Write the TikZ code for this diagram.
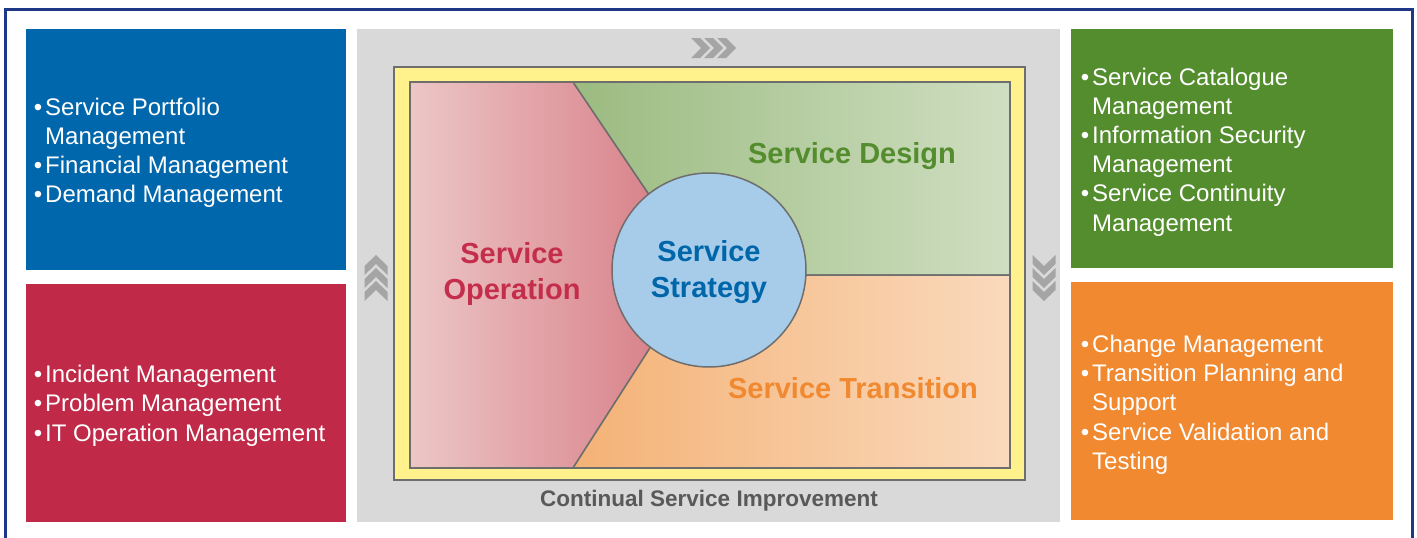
\documentclass[tikz,border=0pt]{standalone}
\usepackage{fontspec}
\setmainfont{Liberation Sans}
\definecolor{navyb}{RGB}{30,55,135}
\definecolor{boxblue}{RGB}{0,103,172}
\definecolor{boxred}{RGB}{192,41,72}
\definecolor{boxgreen}{RGB}{84,141,46}
\definecolor{boxorange}{RGB}{240,137,48}
\definecolor{panelgray}{RGB}{217,217,217}
\definecolor{yel}{RGB}{255,242,140}
\definecolor{edgegray}{RGB}{110,110,110}
\definecolor{opL}{RGB}{236,198,198}
\definecolor{opR}{RGB}{213,118,128}
\definecolor{deL}{RGB}{155,187,128}
\definecolor{deR}{RGB}{207,222,193}
\definecolor{trL}{RGB}{244,178,118}
\definecolor{trR}{RGB}{250,217,188}
\definecolor{circ}{RGB}{166,204,234}
\definecolor{txtred}{RGB}{196,45,75}
\definecolor{txtgreen}{RGB}{84,141,46}
\definecolor{txtblue}{RGB}{0,102,170}
\definecolor{txtorange}{RGB}{240,137,48}
\definecolor{csi}{RGB}{89,89,89}
\definecolor{chev}{RGB}{165,165,165}
\newcommand\bu{\llap{•\hspace{3pt}}}
\begin{document}
\begin{tikzpicture}[x=1pt,y=-1pt,
  bl/.style={anchor=base west, inner sep=0, text=white, font=\fontsize{24}{29}\selectfont},
  big/.style={inner sep=0, align=center, font=\fontsize{29}{36}\selectfont\bfseries},
  chevright/.pic={\fill[chev] (0,0) -- (9,0) -- (19,10) -- (9,20) -- (0,20) -- (10,10) -- cycle;},
  chevup/.pic={\fill[chev] (0,0) -- (11.5,11) -- (11.5,20) -- (0,9) -- (-11.5,20) -- (-11.5,11) -- cycle;},
  chevdown/.pic={\fill[chev] (0,20) -- (11.5,9) -- (11.5,0) -- (0,11) -- (-11.5,0) -- (-11.5,9) -- cycle;},
  regionedge/.style={draw=edgegray, line width=1.5pt}
]
\useasboundingbox (0,0) rectangle (1417,538);
\clip (0,0) rectangle (1417,538);
\fill[white] (0,0) rectangle (1417,538);
\draw[navyb, line width=3pt] (5.5,9.5) rectangle (1412,560);

% side boxes
\fill[boxblue] (26,29) rectangle (346,270);
\fill[boxred] (26,284) rectangle (346,522);
\fill[boxgreen] (1071,29) rectangle (1393,268);
\fill[boxorange] (1071,282) rectangle (1393,520);

% gray panel
\fill[panelgray] (357,29) rectangle (1060,522);
\fill[yel, draw=edgegray, line width=1.5pt] (394,67) rectangle (1025,480);

% regions
\shade[left color=opL, right color=opR, regionedge] (410,82) -- (573,82) -- (700,270) -- (573,468) -- (410,468) -- cycle;
\shade[left color=deL, right color=deR, regionedge] (573,82) -- (1010,82) -- (1010,275) -- (705,275) -- (700,270) -- cycle;
\shade[left color=trL, right color=trR, regionedge] (700,270) -- (705,275) -- (1010,275) -- (1010,468) -- (573,468) -- cycle;
\draw[edgegray, line width=1.5pt] (410,82) rectangle (1010,468);

\node (strat) [circle, fill=circ, draw=edgegray, line width=1.5pt, minimum size=194pt, inner sep=0] at (709,270) {};
\node (stratlbl) [big, text=txtblue] at (709,272) {Service\\Strategy};
\node (oplbl) [big, text=txtred] at (512,274) {Service\\Operation};
\node (delbl) [big, text=txtgreen] at (852,156) {Service Design};
\node (trlbl) [big, text=txtorange] at (853,388) {Service Transition};
\node (csilbl) [inner sep=0, text=csi, font=\fontsize{22.5}{27}\selectfont\bfseries] at (709,501) {Continual Service Improvement};

% chevrons
\pic at (691,38) {chevright};
\pic at (704,38) {chevright};
\pic at (717,38) {chevright};
\pic at (376,255) {chevup};
\pic at (376,268) {chevup};
\pic at (376,281) {chevup};
\pic at (1044,255) {chevdown};
\pic at (1044,268) {chevdown};
\pic at (1044,281) {chevdown};

% blue box text
\node (b1) [bl] at (45,115) {\bu Service Portfolio};
\node (b2) [bl] at (45,144) {Management};
\node (b3) [bl] at (45,173) {\bu Financial Management};
\node (b4) [bl] at (45,202) {\bu Demand Management};
% red box text
\node (r1) [bl] at (45,382) {\bu Incident Management};
\node (r2) [bl] at (45,411) {\bu Problem Management};
\node (r3) [bl] at (45,441) {\bu IT Operation Management};
% green box text
\node (g1) [bl] at (1092,85) {\bu Service Catalogue};
\node (g2) [bl] at (1092,114) {Management};
\node (g3) [bl] at (1092,143) {\bu Information Security};
\node (g4) [bl] at (1092,172) {Management};
\node (g5) [bl] at (1092,201) {\bu Service Continuity};
\node (g6) [bl] at (1092,231) {Management};
% orange box text
\node (o1) [bl] at (1092,352) {\bu Change Management};
\node (o2) [bl] at (1092,381) {\bu Transition Planning and};
\node (o3) [bl] at (1092,410) {Support};
\node (o4) [bl] at (1092,440) {\bu Service Validation and};
\node (o5) [bl] at (1092,469) {Testing};
\end{tikzpicture}
\end{document}
